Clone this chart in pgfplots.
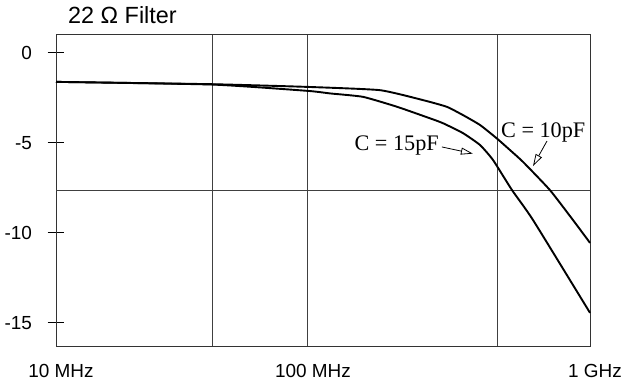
\documentclass[border=0pt]{standalone}
\usepackage{pgfplots}
\pgfplotsset{compat=1.18}
\usepackage{fontspec}
\setmainfont{Liberation Sans}
\newfontfamily\timesf{Liberation Serif}
\usetikzlibrary{arrows.meta}
\begin{document}
\begin{tikzpicture}
\begin{axis}[
  name=ax, at={(0,0)}, anchor=south west,
  scale only axis, width=534bp, height=311bp,
  xmode=log, xmin=12.8, xmax=1000, ymin=-16.3, ymax=0.95,
  clip=false,
  axis line style={line width=1bp, black!80},
  xtick={12.8,46,100,468,1000},
  xticklabels={10 MHz,,100 MHz,,1 GHz},
  xmajorgrids=true,
  major grid style={line width=0.9bp, black!75},
  x tick style={draw=none},
  xticklabel style={font=\fontsize{19}{22}\selectfont, xshift=5bp, yshift=-6bp},
  ytick={-15,-10,-5,0}, yticklabels={-15,-10,-5,0},
  ytick pos=left, tick align=center, major tick length=17bp,
  y tick style={line width=0.8bp, black},
  yticklabel style={font=\fontsize{19}{22}\selectfont, xshift=-12bp, yshift=-1bp},
  extra y ticks={-7.65}, extra y tick labels={},
  extra y tick style={ymajorgrids=true, major tick length=0pt},
  /pgf/number format/assume math mode=true,
]
\addplot[line width=1.9bp, black, smooth, tension=0.3] coordinates {
  (12.8,-1.65) (46,-1.78) (100,-1.93) (180,-2.11) (255.7,-2.66) (310.4,-3.03)
  (354.4,-3.49) (407.4,-4.04) (466.9,-4.78) (520.3,-5.43) (579,-6.09) (721,-7.65)
  (870,-9.31) (1000,-10.58)};
\addplot[line width=1.9bp, black, smooth, tension=0.3] coordinates {
  (12.8,-1.65) (46,-1.8) (100,-2.15) (119.7,-2.29) (156.7,-2.48) (206.9,-3.03)
  (270.7,-3.67) (301,-3.94) (354.4,-4.49) (407.4,-5.15) (453,-5.98) (529,-7.65)
  (628,-9.31) (1000,-14.46)};
\node[anchor=base east, font=\timesf\fontsize{22.3}{25}\selectfont, inner sep=0pt] at (axis cs:291.4,-5.43) {C = 15pF};
\node[anchor=base west, font=\timesf\fontsize{22.3}{25}\selectfont, inner sep=0pt] at (axis cs:483.5,-4.71) {C = 10pF};
\draw[line width=0.8bp, -{Triangle[open,length=12bp,width=7bp]}] (axis cs:298.6,-5.26) -- (axis cs:384.6,-5.63);
\draw[line width=0.8bp, -{Triangle[open,length=12bp,width=7bp]}] (axis cs:704,-4.93) -- (axis cs:628,-6.32);
\end{axis}
\node[anchor=base west, font=\fontsize{23.5}{28}\selectfont, inner sep=0pt] at ([xshift=12bp,yshift=11bp]ax.north west) {22 Ω Filter};
\pgfresetboundingbox
\useasboundingbox (-56bp,-38bp) rectangle (570bp,346bp);
\end{tikzpicture}
\end{document}
